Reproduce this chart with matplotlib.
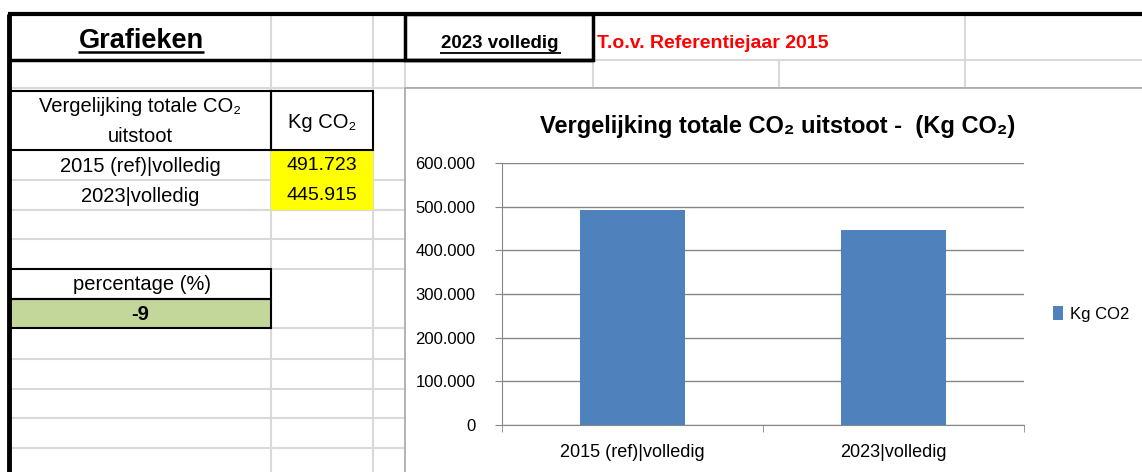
import numpy as np
import matplotlib
matplotlib.use("Agg")
import matplotlib.pyplot as plt
from matplotlib.patches import Rectangle

# data
categories = ["2015 (ref)|volledig", "2023|volledig"]
kg_co2 = [491723, 445915]
percentage = -9
series_name = "Kg CO2"
yticks = [0, 100000, 200000, 300000, 400000, 500000, 600000]

def nl(v):
    return f"{v:,.0f}".replace(",", ".")

plt.rcParams['font.family'] = ['Liberation Sans', 'DejaVu Sans']

W, H = 1142, 472
fig = plt.figure(figsize=(W / 100, H / 100), dpi=100)
bg = fig.add_axes([0, 0, 1, 1])
bg.set_xlim(0, W)
bg.set_ylim(H, 0)
bg.axis('off')

grid_c = '#d9d9d9'

def hline(y, x0, x1, c=grid_c, lw=1.5, z=1):
    bg.plot([x0, x1], [y, y], color=c, lw=lw, zorder=z, solid_capstyle='butt')

def vline(x, y0, y1, c=grid_c, lw=1.5, z=1):
    bg.plot([x, x], [y0, y1], color=c, lw=lw, zorder=z, solid_capstyle='butt')

def box(x0, y0, x1, y1, fc='none', ec='black', lw=1.5, z=3):
    bg.add_patch(Rectangle((x0, y0), x1 - x0, y1 - y0, facecolor=fc,
                           edgecolor=ec, lw=lw, zorder=z))

# spreadsheet gridlines
for x in [271, 373]:
    vline(x, 14, H)
vline(405, 60, 88)
vline(593, 60, 88)
vline(779, 60, 88)
vline(965, 14, 88)
hline(60, 593, W)
hline(88, 10, W)
for y in [180, 210, 239, 359, 389, 418, 448]:
    hline(y, 10, 405)
hline(269, 271, 405)
hline(328, 271, 405)

# fills
box(271, 150, 373, 210, fc='#ffff00', ec='none', lw=0, z=2)
box(10, 299, 271, 328, fc='#c4d79b', ec='none', lw=0, z=2)

# black borders
hline(14, 8, W, c='black', lw=3, z=4)
vline(9, 14, H, c='black', lw=3.5, z=4)
hline(60, 10, 593, c='black', lw=2.5, z=4)
box(405, 14, 593, 60, lw=2.5)
box(10, 91, 271, 150)
box(271, 91, 373, 150)
box(10, 269, 271, 299)
box(10, 299, 271, 328)

# cell texts
bg.text(141, 41, "Grafieken", ha='center', va='center', fontsize=19.5, fontweight='bold', zorder=5)
hline(52, 78, 204, c='black', lw=1.8, z=5)
bg.text(500, 44, "2023 volledig", ha='center', va='center', fontsize=13.5, fontweight='bold', zorder=5)
hline(53, 440, 561, c='black', lw=1.3, z=5)
bg.text(597, 44, "T.o.v. Referentiejaar 2015", ha='left', va='center', fontsize=14,
        fontweight='bold', color='#ff0000', zorder=5)

fs = 14.5
bg.text(140, 107, "Vergelijking totale CO\u2082", ha='center', va='center', fontsize=fs, zorder=5)
bg.text(140, 136, "uitstoot", ha='center', va='center', fontsize=fs, zorder=5)
bg.text(322, 122, "Kg CO\u2082", ha='center', va='center', fontsize=fs, zorder=5)
for i, (cat, v) in enumerate(zip(categories, kg_co2)):
    y = 166 + 30 * i
    bg.text(140, y, cat, ha='center', va='center', fontsize=fs, zorder=5)
    bg.text(322, y, nl(v), ha='center', va='center', fontsize=14, zorder=5)
bg.text(142, 285, "percentage (%)", ha='center', va='center', fontsize=fs, zorder=5)
bg.text(140, 314, str(percentage), ha='center', va='center', fontsize=fs, fontweight='bold', zorder=5)

# chart area
box(405, 88, W + 5, H + 5, fc='white', ec='#a6a6a6', lw=1.2, z=6)
bg.text(778, 127, "Vergelijking totale CO\u2082 uitstoot -  (Kg CO\u2082)", ha='center', va='center',
        fontsize=17, fontweight='bold', zorder=7)

# plot area pixels: left 502, right 1024, top 163, bottom 425
ax = fig.add_axes([502 / W, (H - 425) / H, 522 / W, 262 / H], zorder=8)
ax.patch.set_alpha(0)
x = np.arange(len(categories))
ax.bar(x, kg_co2, width=0.4, color='#4f81bd', label=series_name, zorder=3)
ax.set_xlim(-0.5, len(categories) - 0.5)
ax.set_ylim(0, 600000)
ax.set_yticks(yticks)
ax.set_yticklabels([nl(v) for v in yticks], fontsize=12)
ax.yaxis.grid(True, color='#868686', lw=1, zorder=0)
ax.set_xticks(x)
ax.set_xticklabels(categories, fontsize=13)
ax.set_xticks(np.arange(-0.5, len(categories)), minor=True)
ax.tick_params(axis='x', which='major', length=0, pad=14)
ax.tick_params(axis='x', which='minor', length=5, color='#868686', direction='out')
ax.tick_params(axis='y', length=5, color='#868686', pad=14)
for s in ['top', 'right']:
    ax.spines[s].set_visible(False)
for s in ['left', 'bottom']:
    ax.spines[s].set_color('#868686')

fig.legend(loc='center left', bbox_to_anchor=(1038 / W, (H - 314) / H), frameon=False,
           handlelength=0.6, handleheight=0.9, handletextpad=0.4, fontsize=12)

fig.savefig('out.png', dpi=100)
